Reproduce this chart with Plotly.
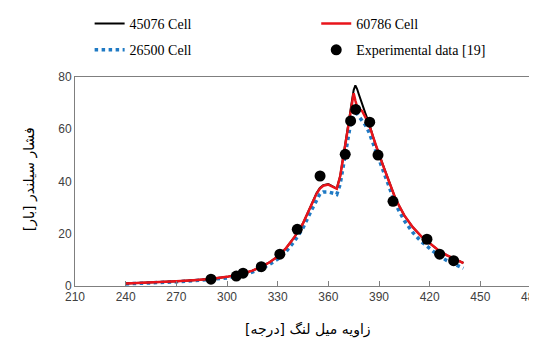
import plotly.graph_objects as go

# Crank angle for simulated curves [deg]
angle = [240, 250, 260, 270, 280, 290, 300, 305, 310, 315, 320, 325, 330, 335, 340, 345,
         350, 353, 355, 357, 360, 363, 365, 367, 369, 371, 373, 374, 375, 376, 377, 378,
         380, 382, 384, 386, 388, 390, 393, 396, 400, 405, 410, 415, 420, 425, 430, 435, 440]

p_45076 = [1.0, 1.2, 1.5, 1.8, 2.2, 2.7, 3.5, 4.1, 4.9, 5.9, 7.2, 9.0, 11.3, 14.5, 18.8, 24.0,
           31.0, 35.5, 37.5, 38.6, 39.0, 38.0, 37.3, 42.0, 50.0, 58.0, 66.0, 71.0, 75.0, 76.8, 75.5, 73.5,
           69.5, 66.0, 62.5, 58.0, 54.0, 50.5, 45.0, 39.5, 33.0, 27.0, 22.5, 19.0, 16.3, 13.8, 11.8, 10.2, 8.8]

p_60786 = [1.0, 1.2, 1.5, 1.8, 2.2, 2.7, 3.5, 4.1, 4.9, 5.9, 7.2, 9.0, 11.3, 14.5, 18.8, 24.0,
           31.0, 35.3, 37.3, 38.4, 38.8, 37.8, 37.2, 42.0, 50.0, 58.0, 65.0, 69.0, 73.8, 71.0, 68.6, 68.0,
           67.0, 64.5, 62.0, 58.0, 54.0, 50.5, 45.0, 39.5, 33.0, 27.0, 22.5, 19.0, 16.3, 13.8, 11.8, 10.2, 8.8]

p_26500 = [0.8, 1.0, 1.3, 1.6, 2.0, 2.4, 3.1, 3.7, 4.4, 5.3, 6.5, 8.2, 10.3, 13.2, 17.2, 22.2,
           29.0, 33.0, 35.2, 36.0, 36.0, 35.5, 35.0, 39.0, 47.0, 55.0, 61.5, 64.0, 65.5, 66.0, 66.0, 65.0,
           63.5, 61.5, 59.0, 55.5, 52.0, 48.0, 42.5, 37.5, 31.0, 25.0, 20.5, 17.0, 14.3, 11.8, 9.8, 8.2, 6.8]

# Experimental data [19]
exp_angle = [290.5, 305.5, 309.5, 320.3, 331.3, 341.6, 355.1, 370.0, 373.2, 376.2,
             384.5, 389.4, 398.3, 418.4, 425.9, 434.2]
exp_p = [2.6, 3.8, 4.9, 7.4, 12.2, 21.7, 42.1, 50.4, 63.2, 67.6,
         62.7, 50.1, 32.4, 17.9, 12.2, 9.7]

x_ticks = [210, 240, 270, 300, 330, 360, 390, 420, 450, 480]
y_ticks = [0, 20, 40, 60, 80]

x_title = "زاویه میل لنگ [درجه]"
y_title = "فشار سیلندر [بار]"

legend_font = dict(family="serif", size=14, color="#000000")
fa_font = dict(family="DejaVu Sans", size=14, color="#000000")

fig = go.Figure()
fig.add_trace(go.Scatter(x=angle, y=p_26500, mode="lines", name="26500 Cell",
                         line=dict(color="#1f7ac4", width=3.5, dash="dot"),
                         legend="legend", legendgroup="b", legendrank=2))
fig.add_trace(go.Scatter(x=angle, y=p_45076, mode="lines", name="45076 Cell",
                         line=dict(color="#000000", width=2),
                         legend="legend", legendgroup="a", legendrank=1))
fig.add_trace(go.Scatter(x=angle, y=p_60786, mode="lines", name="60786 Cell",
                         line=dict(color="#e8141b", width=2.5),
                         legend="legend2", legendgroup="c", legendrank=1))
fig.add_trace(go.Scatter(x=exp_angle, y=exp_p, mode="markers", name="Experimental data [19]",
                         marker=dict(color="#000000", size=11),
                         legend="legend2", legendgroup="d", legendrank=2))

axis_common = dict(showline=True, linecolor="#7f7f7f", linewidth=1, mirror=True,
                   showgrid=False, zeroline=False,
                   tickfont=dict(family="Liberation Sans", size=12, color="#404040"))

# The page body shifts the figure down by 8px; keep the page within the window
fig.update_layout(
    width=537, height=331,
    margin=dict(l=67, r=14, t=69, b=53, autoexpand=False),
    plot_bgcolor="white", paper_bgcolor="white",
    showlegend=True,
    legend=dict(xref="container", yref="container", x=0.152, y=1.013, xanchor="left", yanchor="top",
                font=legend_font, tracegroupgap=5, traceorder="grouped", bgcolor="rgba(0,0,0,0)"),
    legend2=dict(xref="container", yref="container", x=0.574, y=1.013, xanchor="left", yanchor="top",
                 font=legend_font, tracegroupgap=5, traceorder="grouped", bgcolor="rgba(0,0,0,0)"),
    xaxis=dict(range=[210, 480], tickvals=x_ticks, ticks="inside", ticklen=5, tickcolor="#7f7f7f",
               **axis_common),
    yaxis=dict(range=[0, 80], tickvals=y_ticks, ticks="", **axis_common),
    annotations=[
        dict(text=x_title, xref="paper", yref="paper", x=0.51, y=-0.21,
             xanchor="center", yanchor="middle", showarrow=False, font=fa_font),
        dict(text=y_title, xref="paper", yref="paper", x=-0.099, y=0.51,
             xanchor="center", yanchor="middle", textangle=-90, showarrow=False, font=fa_font),
    ],
)

fig.write_html("out.html")
